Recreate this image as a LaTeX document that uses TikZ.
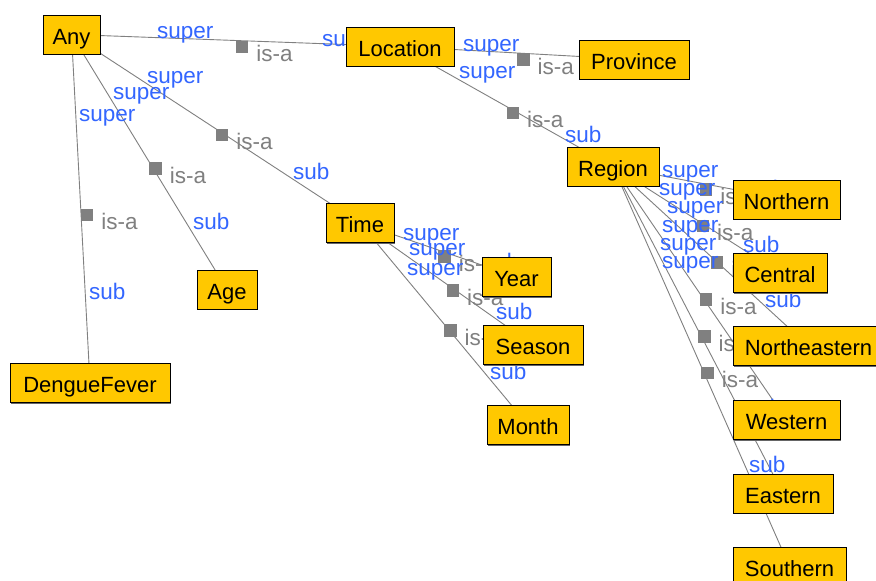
\documentclass[tikz,border=0pt]{standalone}
\usepackage{fontspec}
\setmainfont{Liberation Sans}
\usetikzlibrary{calc,shadows}

\definecolor{boxfill}{RGB}{255,200,0}
\definecolor{edgegray}{RGB}{128,128,128}
\definecolor{roleblue}{RGB}{51,102,255}

\pgfdeclarelayer{background}
\pgfsetlayers{background,main}

% an is-a link: line between two concept centres, square marker at its midpoint
\newcommand{\isaedge}[2]{%
  \draw[edge] (#1.center) -- (#2.center);
  \node[isabox] at ($(#1.center)!0.5!(#2.center)$) {};
  \node[isalbl] at ($(#1.center)!0.5!(#2.center)+(20.5,21)$) {is-a};
}

\begin{document}
\begin{tikzpicture}[x=1pt,y=-1pt,
  concept/.style={draw=black, line width=0.8pt, fill=boxfill,
    minimum height=39pt, inner sep=0pt, text height=19pt, text depth=0pt,
    font=\fontsize{22}{26}\selectfont,
    drop shadow={shadow xshift=1.3pt, shadow yshift=-1.3pt, fill=black!60, opacity=1}},
  edge/.style={draw=edgegray, line width=0.9pt},
  isabox/.style={fill=edgegray, draw=none, minimum size=12.5pt, inner sep=0pt, anchor=north west},
  isalbl/.style={text=edgegray, inner sep=0pt, anchor=base west, font=\fontsize{22.5}{26}\selectfont},
  rolelbl/.style={text=roleblue, inner sep=0pt, anchor=base west, font=\fontsize{22.5}{26}\selectfont}
]
\useasboundingbox (0,0) rectangle (876,581);
\clip (0,0) rectangle (876,581);

% concepts
\node[concept, minimum width=57pt]  (any)      at (71.5,34.5)  {Any};
\node[concept, minimum width=108pt] (location) at (400,46.5)   {Location};
\node[concept, minimum width=110pt] (province) at (634,59.5)   {Province};
\node[concept, minimum width=92pt]  (region)   at (613,166.5)  {Region};
\node[concept, minimum width=68pt]  (time)     at (360,223)    {Time};
\node[concept, minimum width=69pt]  (year)     at (516.5,277)  {Year};
\node[concept, minimum width=100pt] (season)   at (533,345)    {Season};
\node[concept, minimum width=82pt]  (month)    at (528,425)    {Month};
\node[concept, minimum width=60pt]  (age)      at (227,289.5)  {Age};
\node[concept, minimum width=160pt] (dengue)   at (90,383)     {DengueFever};
\node[concept, minimum width=107pt] (northern) at (786.5,199.5){Northern};
\node[concept, minimum width=94pt]  (central)  at (780,273)    {Central};
\node[concept, minimum width=151pt] (northeastern) at (808.5,346) {Northeastern};
\node[concept, minimum width=107pt] (western)  at (786.5,420)  {Western};
\node[concept, minimum width=100pt] (eastern)  at (783,493.5)  {Eastern};
\node[concept, minimum width=113pt] (southern) at (789.5,566.5){Southern};

\begin{pgfonlayer}{background}
  \fill[white] (0,0) rectangle (876,581);

  % is-a links
  \isaedge{any}{location}
  \isaedge{any}{time}
  \isaedge{any}{age}
  \isaedge{any}{dengue}
  \isaedge{location}{province}
  \isaedge{location}{region}
  \isaedge{time}{year}
  \isaedge{time}{season}
  \isaedge{time}{month}
  \isaedge{region}{northern}
  \isaedge{region}{central}
  \isaedge{region}{northeastern}
  \isaedge{region}{western}
  \isaedge{region}{eastern}
  \isaedge{region}{southern}

  % role labels near the super end
  \node[rolelbl] (s1)  at (157,38.5)  {super};
  \node[rolelbl] (s2)  at (147,83.5)  {super};
  \node[rolelbl] (s3)  at (113,99)    {super};
  \node[rolelbl] (s4)  at (79,121.8)  {super};
  \node[rolelbl] (s5)  at (463,51.8)  {super};
  \node[rolelbl] (s6)  at (459,78.5)  {super};
  \node[rolelbl] (s7)  at (403,240)   {super};
  \node[rolelbl] (s8)  at (409,255.5) {super};
  \node[rolelbl] (s9)  at (407,275)   {super};
  \node[rolelbl] (s10) at (662,177)   {super};
  \node[rolelbl] (s11) at (659,195)   {super};
  \node[rolelbl] (s12) at (667,213.5) {super};
  \node[rolelbl] (s13) at (662,232)   {super};
  \node[rolelbl] (s14) at (660,250)   {super};
  \node[rolelbl] (s15) at (662,268.5) {super};

  % role labels near the sub end
  \node[rolelbl] (b1)  at (322,46)  {sub};
  \node[rolelbl] (b2)  at (293,179) {sub};
  \node[rolelbl] (b3)  at (193,229) {sub};
  \node[rolelbl] (b4)  at (89,299)  {sub};
  \node[rolelbl] (b5)  at (565,142) {sub};
  \node[rolelbl] (b6)  at (483,269) {sub};
  \node[rolelbl] (b7)  at (496,319) {sub};
  \node[rolelbl] (b8)  at (490,379) {sub};
  \node[rolelbl] (b9)  at (749,196) {sub};
  \node[rolelbl] (b10) at (743,252) {sub};
  \node[rolelbl] (b11) at (765,307) {sub};
  \node[rolelbl] (b12) at (746,415) {sub};
  \node[rolelbl] (b13) at (749,472) {sub};
\end{pgfonlayer}
\end{tikzpicture}
\end{document}
